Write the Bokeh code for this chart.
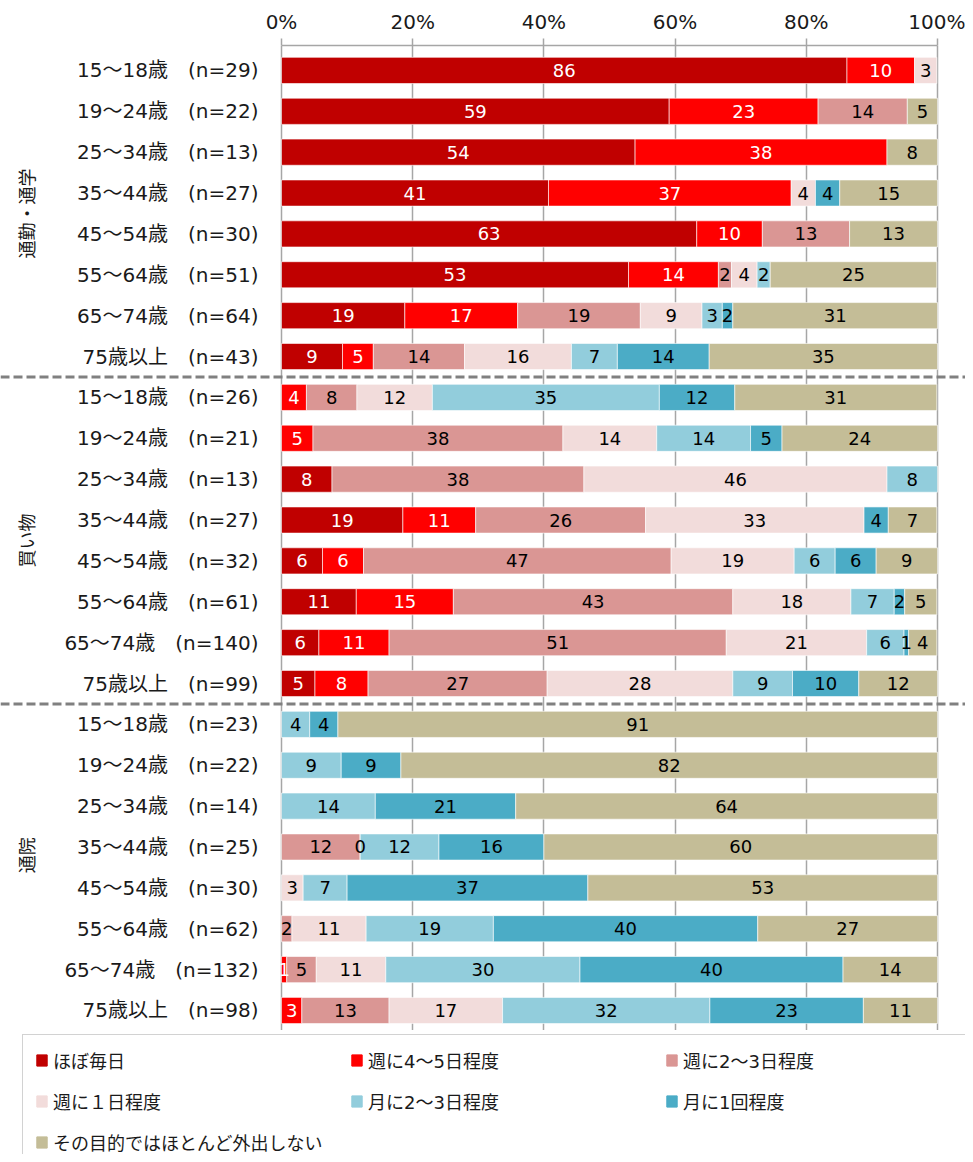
import numpy as np
from bokeh.plotting import figure
from bokeh.layouts import column
from bokeh.models import (ColumnDataSource, FixedTicker, PrintfTickFormatter,
                          Legend, LegendItem, Span, Range1d)
from bokeh.embed import file_html
from bokeh.resources import INLINE
from bokeh.core.properties import value

# ---------------- data ----------------
series = ["ほぼ毎日", "週に4～5日程度", "週に2～3日程度", "週に１日程度",
          "月に2～3日程度", "月に1回程度", "その目的ではほとんど外出しない"]
colors = ["#C00000", "#FF0000", "#DA9694", "#F2DCDB", "#92CDDC", "#4BACC6", "#C4BD97"]

groups = ["通勤・通学", "買い物", "通院"]
ages = ["15～18歳", "19～24歳", "25～34歳", "35～44歳",
        "45～54歳", "55～64歳", "65～74歳", "75歳以上"]
n_commute = [29, 22, 13, 27, 30, 51, 64, 43]
n_shopping = [26, 21, 13, 27, 32, 61, 140, 99]
n_hospital = [23, 22, 14, 25, 30, 62, 132, 98]

N = None
commute = [
    [86.2, 10.3, N, 3.4, N, N, N],
    [59.1, 22.7, 13.6, N, N, N, 4.6],
    [53.9, 38.4, N, N, N, N, 7.7],
    [40.7, 37.0, N, 3.7, N, 3.7, 14.9],
    [63.3, 10.0, 13.3, N, N, N, 13.4],
    [52.9, 13.7, 2.0, 3.9, 2.0, N, 25.4],
    [18.8, 17.2, 18.7, 9.4, 3.1, 1.6, 31.2],
    [9.3, 4.7, 13.9, 16.3, 7.0, 14.0, 34.8],
]
shopping = [
    [N, 3.8, 7.7, 11.5, 34.6, 11.5, 30.8],
    [N, 4.8, 38.1, 14.3, 14.3, 4.8, 23.7],
    [7.7, N, 38.4, 46.2, 7.7, N, N],
    [18.5, 11.1, 25.9, 33.3, N, 3.7, 7.4],
    [6.25, 6.25, 46.9, 18.75, 6.25, 6.25, 9.35],
    [11.4, 14.8, 42.6, 18.0, 6.6, 1.6, 4.9],
    [5.7, 10.7, 51.4, 21.4, 5.7, 0.7, 4.3],
    [5.1, 8.1, 27.3, 28.3, 9.1, 10.1, 12.0],
]
hospital = [
    [N, N, N, N, 4.3, 4.3, 91.4],
    [N, N, N, N, 9.1, 9.1, 81.8],
    [N, N, N, N, 14.3, 21.4, 64.3],
    [N, N, 12.0, 0, 12.0, 16.0, 60.0],
    [N, N, N, 3.3, 6.7, 36.7, 53.3],
    [N, N, 1.6, 11.3, 19.4, 40.3, 27.4],
    [N, 0.8, 4.5, 10.6, 29.6, 40.1, 14.4],
    [N, 3.1, 13.3, 17.3, 31.6, 23.4, 11.3],
]
x_ticks = [0, 20, 40, 60, 80, 100]

# ---------------- derived ----------------
rows = commute + shopping + hospital
ns = n_commute + n_shopping + n_hospital
row_labels = [f"{ages[i % 8]}　(n={ns[i]})" for i in range(len(rows))]
group_size = len(ages)

FONT_JP = "Noto Sans CJK JP"
FONT_MIX = "'DejaVu Sans', 'Noto Sans CJK JP'"
FONT_NUM = "DejaVu Sans"
TXT = "#1a1a1a"

W = 965
PX_PER_PCT = 6.56
X0 = 281  # screen position of 0%
x_start = -X0 / PX_PER_PCT
x_end = (W - X0) / PX_PER_PCT

p = figure(frame_width=W, frame_height=985,
           x_range=Range1d(x_start, x_end), y_range=Range1d(23.49, -0.61),
           x_axis_location="above", y_axis_location=None,
           output_backend="svg", toolbar_location=None,
           min_border_left=0, min_border_right=0, min_border_top=45,
           min_border_bottom=0)
p.outline_line_color = None

renderers = []
lab_x, lab_y, lab_t, lab_c = [], [], [], []
cum = np.zeros(len(rows))
for j in range(len(series)):
    ys, ls, rs = [], [], []
    for i, r in enumerate(rows):
        v = r[j]
        if v is None:
            continue
        ys.append(i)
        ls.append(cum[i])
        rs.append(cum[i] + v)
        lab_x.append(cum[i] + v / 2.0)
        lab_y.append(i)
        lab_t.append(str(int(np.floor(v + 0.5))))
        lab_c.append("white" if j < 2 else "#000000")
        cum[i] += v
    src = ColumnDataSource(dict(y=ys, left=ls, right=rs))
    rend = p.hbar(y="y", left="left", right="right", height=0.64, source=src,
                  fill_color=colors[j], line_color="white", line_width=0.6)
    renderers.append(rend)

lsrc = ColumnDataSource(dict(x=lab_x, y=lab_y, text=lab_t, color=lab_c))
p.text(x="x", y="y", text="text", source=lsrc, text_color="color",
       text_align="center", text_baseline="middle",
       text_font=value(FONT_NUM), text_font_size="18px")

# row (category) labels, right-aligned left of 0%
label_x = -23 / PX_PER_PCT
rsrc = ColumnDataSource(dict(x=[label_x] * len(rows), y=list(range(len(rows))), text=row_labels))
p.text(x="x", y="y", text="text", source=rsrc, text_color=TXT,
       text_align="right", text_baseline="middle",
       text_font=value(FONT_MIX), text_font_size="20px")

# group labels (rotated)
gx = (25 - X0) / PX_PER_PCT
gsrc = ColumnDataSource(dict(x=[gx] * len(groups),
                             y=[g * group_size + 3.5 for g in range(len(groups) - 1)] + [19.2],
                             text=groups))
p.text(x="x", y="y", text="text", source=gsrc, text_color=TXT, angle=np.pi / 2,
       text_align="center", text_baseline="middle",
       text_font=value(FONT_JP), text_font_size="18px")

# group separators
for g in range(1, len(groups)):
    p.add_layout(Span(location=g * group_size - 0.5, dimension="width",
                      line_color="#808080", line_width=3, line_dash="9 4"))

# top axis
ax = p.xaxis[0]
ax.ticker = FixedTicker(ticks=x_ticks)
ax.formatter = PrintfTickFormatter(format="%d%%")
ax.bounds = (0, 100)
ax.axis_line_color = "#A6A6A6"
ax.axis_line_width = 1.5
ax.major_tick_line_color = "#A6A6A6"
ax.major_tick_line_width = 1.5
ax.major_tick_in = 0
ax.major_tick_out = 7
ax.minor_tick_line_color = None
ax.major_label_standoff = 5
ax.major_label_text_font = FONT_NUM
ax.major_label_text_font_size = "20px"
ax.major_label_text_color = TXT

p.xgrid.ticker = FixedTicker(ticks=x_ticks)
p.xgrid.grid_line_color = "#A6A6A6"
p.xgrid.grid_line_width = 1.5
p.ygrid.visible = False

# ---------------- legend figure ----------------
lf = figure(width=W, height=124, x_range=Range1d(0, 1), y_range=Range1d(0, 1),
            x_axis_location=None, y_axis_location=None,
            output_backend="svg", toolbar_location=None,
            min_border_left=0, min_border_right=0, min_border_top=0, min_border_bottom=0)
lf.outline_line_color = None
lf.grid.visible = False
leg_r = []
for c in colors:
    # swatch renderers placed outside the visible range; only used by the legend
    leg_r.append(lf.hbar(y=[5], left=[5], right=[6], height=0.5, fill_color=c, line_color=c))

legend = Legend(items=[LegendItem(label=s, renderers=[r]) for s, r in zip(series, leg_r)],
                orientation="horizontal", ncols=3, location=(22, -14),
                glyph_width=13, glyph_height=14, label_width=282, label_height=20,
                label_standoff=5, spacing=15, padding=12,
                border_line_color="#A6A6A6", border_line_width=1.5,
                background_fill_color="white",
                label_text_font=FONT_MIX, label_text_font_size="18px",
                label_text_color=TXT)
lf.add_layout(legend)

layout = column(p, lf, spacing=0)
open("out.html", "w").write(file_html(layout, INLINE))
